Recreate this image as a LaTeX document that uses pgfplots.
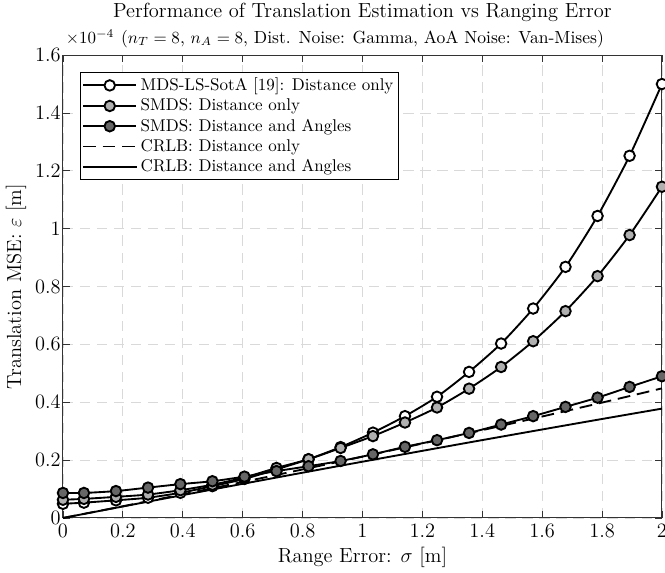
\documentclass[border=0pt]{standalone}
\usepackage{pgfplots}
\pgfplotsset{compat=1.18}
\definecolor{lgray}{RGB}{176,176,176}
\definecolor{dgray}{RGB}{102,102,102}
\pgfplotsset{
  longlegend/.style={legend image code/.code={%
    \draw[##1,mark repeat=2,mark phase=2] plot coordinates {(0cm,0cm) (0.55cm,0cm) (1.1cm,0cm)};}},
}
\begin{document}
\begin{tikzpicture}
\begin{axis}[
  name=main,
  scale only axis, width=352pt, height=272pt,
  xmin=0, xmax=2, ymin=0, ymax=1.6,
  xtick={0,0.2,0.4,0.6,0.8,1,1.2,1.4,1.6,1.8,2},
  ytick={0,0.2,0.4,0.6,0.8,1,1.2,1.4,1.6},
  xticklabels={0,0.2,0.4,0.6,0.8,1,1.2,1.4,1.6,1.8,2},
  yticklabels={0,0.2,0.4,0.6,0.8,1,1.2,1.4,1.6},
  ticklabel style={font=\large},
  tick align=inside, xtick pos=both, ytick pos=both,
  major tick length=4pt,
  axis line style={black!80, line width=0.6pt},
  tick style={black!80, line width=0.5pt},
  grid=major, grid style={dash pattern=on 6pt off 4pt, black!15, line width=0.5pt},
  xlabel={Range Error: $\sigma$ [m]},
  ylabel={Translation MSE: $\varepsilon$ [m]},
  xlabel style={font=\large, at={(axis description cs:0.5,0)}, anchor=base, yshift=-26pt},
  ylabel style={font=\large, at={(axis description cs:0,0.5)}, anchor=center, yshift=27.6pt},
  yticklabel style={xshift=2.2pt},
  legend style={at={(rel axis cs:0,1)}, anchor=north west, xshift=10pt, yshift=-10pt,
    draw=black, line width=0.6pt, font=\normalsize, inner sep=1pt, row sep=-0.7pt,
    cells={anchor=west}},
  every axis plot/.append style={line width=1.1pt, black},
  mark options={solid, line width=0.9pt},
  clip=false,
]
\addplot[smooth, tension=0.4, mark=*, mark size=3.1pt, mark options={fill=white}, longlegend] coordinates {
(0,0.049) (0.070,0.053) (0.177,0.061) (0.284,0.070) (0.392,0.087) (0.499,0.110)
(0.606,0.135) (0.713,0.168) (0.820,0.203) (0.927,0.245) (1.035,0.295) (1.142,0.352)
(1.249,0.419) (1.356,0.505) (1.463,0.603) (1.570,0.724) (1.678,0.868) (1.785,1.044)
(1.892,1.252) (2.0,1.500)};
\addlegendentry{MDS-LS-SotA [19]: Distance only}
\addplot[smooth, tension=0.4, mark=*, mark size=3.1pt, mark options={fill=lgray}, longlegend] coordinates {
(0,0.063) (0.070,0.066) (0.177,0.073) (0.284,0.081) (0.392,0.096) (0.499,0.115)
(0.606,0.140) (0.713,0.173) (0.820,0.203) (0.927,0.242) (1.035,0.283) (1.142,0.330)
(1.249,0.382) (1.356,0.447) (1.463,0.522) (1.570,0.611) (1.678,0.715) (1.785,0.836)
(1.892,0.978) (2.0,1.145)};
\addlegendentry{SMDS: Distance only}
\addplot[smooth, tension=0.4, mark=*, mark size=3.1pt, mark options={fill=dgray}, longlegend] coordinates {
(0,0.0865) (0.070,0.0865) (0.177,0.093) (0.284,0.105) (0.392,0.117) (0.499,0.127)
(0.606,0.143) (0.713,0.162) (0.820,0.179) (0.927,0.197) (1.035,0.220) (1.142,0.246)
(1.249,0.269) (1.356,0.294) (1.463,0.323) (1.570,0.352) (1.678,0.384) (1.785,0.416)
(1.892,0.453) (2.0,0.490)};
\addlegendentry{SMDS: Distance and Angles}
\addplot[smooth, dash pattern=on 7.5pt off 4pt, longlegend] coordinates {
(0,0) (0.070,0.0141) (0.177,0.0358) (0.284,0.0578) (0.392,0.0802) (0.499,0.1028)
(0.606,0.1256) (0.713,0.1487) (0.820,0.1721) (0.927,0.1957) (1.035,0.2199) (1.142,0.2441)
(1.249,0.2685) (1.356,0.2933) (1.463,0.3183) (1.570,0.3436) (1.678,0.3694) (1.785,0.3952)
(1.892,0.4214) (2.0,0.448)};
\addlegendentry{CRLB: Distance only}
\addplot[smooth, longlegend] coordinates {
(0,0) (0.070,0.0140) (0.177,0.0352) (0.284,0.0564) (0.392,0.0775) (0.499,0.0984)
(0.606,0.1192) (0.713,0.1398) (0.820,0.1603) (0.927,0.1807) (1.035,0.2011) (1.142,0.2212)
(1.249,0.2412) (1.356,0.2611) (1.463,0.2808) (1.570,0.3004) (1.678,0.3201) (1.785,0.3395)
(1.892,0.3587) (2.0,0.378)};
\addlegendentry{CRLB: Distance and Angles}
\node[anchor=base, inner sep=0pt, font=\large] at (rel axis cs:0.5,1) [yshift=22pt]
  {Performance of Translation Estimation vs Ranging Error};
\node[anchor=base, inner sep=0pt, font=\fontsize{10.3}{13}\selectfont] at (rel axis cs:0.5,1) [yshift=7pt]
  {($n_T=8$, $n_A=8$, Dist. Noise: Gamma, AoA Noise: Van-Mises)};
\node[anchor=base west, inner sep=0pt, font=\fontsize{9.6}{12}\selectfont] at (rel axis cs:0,1) [xshift=1.5pt, yshift=7pt] {$\times10^{-4}$};
\end{axis}
\pgfresetboundingbox
\path[use as bounding box] ([xshift=-37pt,yshift=-31.8pt]main.south west) rectangle ([xshift=1.8pt,yshift=32.4pt]main.north east);
\end{tikzpicture}
\end{document}
